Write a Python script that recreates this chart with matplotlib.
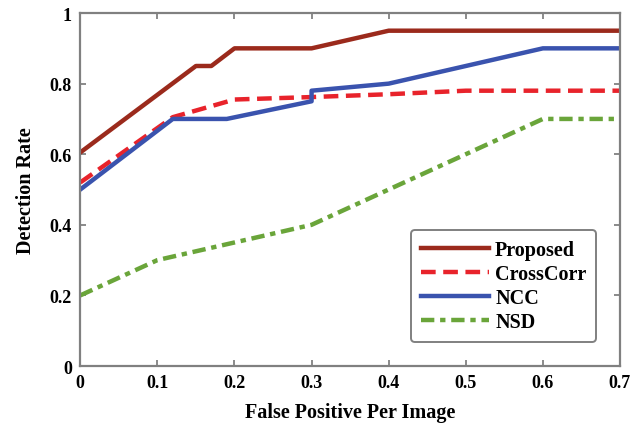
import matplotlib.pyplot as plt

plt.rcParams['font.family'] = ['Liberation Serif', 'DejaVu Serif']
plt.rcParams['font.weight'] = 'bold'

prop_x = [0, 0.15, 0.17, 0.2, 0.3, 0.4, 0.7]
prop_y = [0.605, 0.85, 0.85, 0.9, 0.9, 0.95, 0.95]

cc_x = [0, 0.12, 0.2, 0.3, 0.4, 0.5, 0.7]
cc_y = [0.52, 0.705, 0.755, 0.762, 0.77, 0.78, 0.78]

ncc_x = [0, 0.12, 0.19, 0.3, 0.3, 0.4, 0.6, 0.7]
ncc_y = [0.5, 0.7, 0.7, 0.75, 0.78, 0.8, 0.9, 0.9]

nsd_x = [0, 0.05, 0.1, 0.2, 0.3, 0.4, 0.6, 0.7]
nsd_y = [0.2, 0.25, 0.3, 0.35, 0.4, 0.5, 0.7, 0.7]

fig = plt.figure(figsize=(6.32, 4.39), dpi=100)
ax = fig.add_axes([0.127, 0.164, 0.854, 0.804])

ax.plot(prop_x, prop_y, color='#9b2a1c', lw=3.2, label='Proposed')
ax.plot(cc_x, cc_y, color='#e8232b', lw=3.2, dashes=(3.3, 1.7), label='CrossCorr')
ax.plot(ncc_x, ncc_y, color='#3a53ae', lw=3.2, label='NCC')
ax.plot(nsd_x, nsd_y, color='#6aa53a', lw=3.2, dashes=(3, 1.3, 1.2, 1.3), label='NSD')

ax.set_xlim(0, 0.7)
ax.set_ylim(0, 1)
ax.set_xticks([0, 0.1, 0.2, 0.3, 0.4, 0.5, 0.6, 0.7])
ax.set_xticklabels(['0', '0.1', '0.2', '0.3', '0.4', '0.5', '0.6', '0.7'])
ax.set_yticks([0, 0.2, 0.4, 0.6, 0.8, 1])
ax.set_yticklabels(['0', '0.2', '0.4', '0.6', '0.8', '1'])
ax.tick_params(direction='in', top=True, right=True, length=4, width=1.2,
               color='#777777', labelsize=13, pad=6)
for s in ax.spines.values():
    s.set_color('#808080')
    s.set_linewidth(1.6)

ax.set_xlabel('False Positive Per Image', fontsize=14.5, fontweight='bold', labelpad=8)
ax.set_ylabel('Detection Rate', fontsize=14.5, fontweight='bold', labelpad=10)

leg = ax.legend(loc='lower right', fontsize=14.5, handlelength=3.4, handletextpad=0.3,
                labelspacing=0.2, borderpad=0.5, fancybox=True,
                bbox_to_anchor=(0.975, 0.04))
leg.get_frame().set_edgecolor('#808080')
leg.get_frame().set_linewidth(1.4)
leg.get_frame().set_alpha(1)

fig.savefig('out.png', dpi=100)
